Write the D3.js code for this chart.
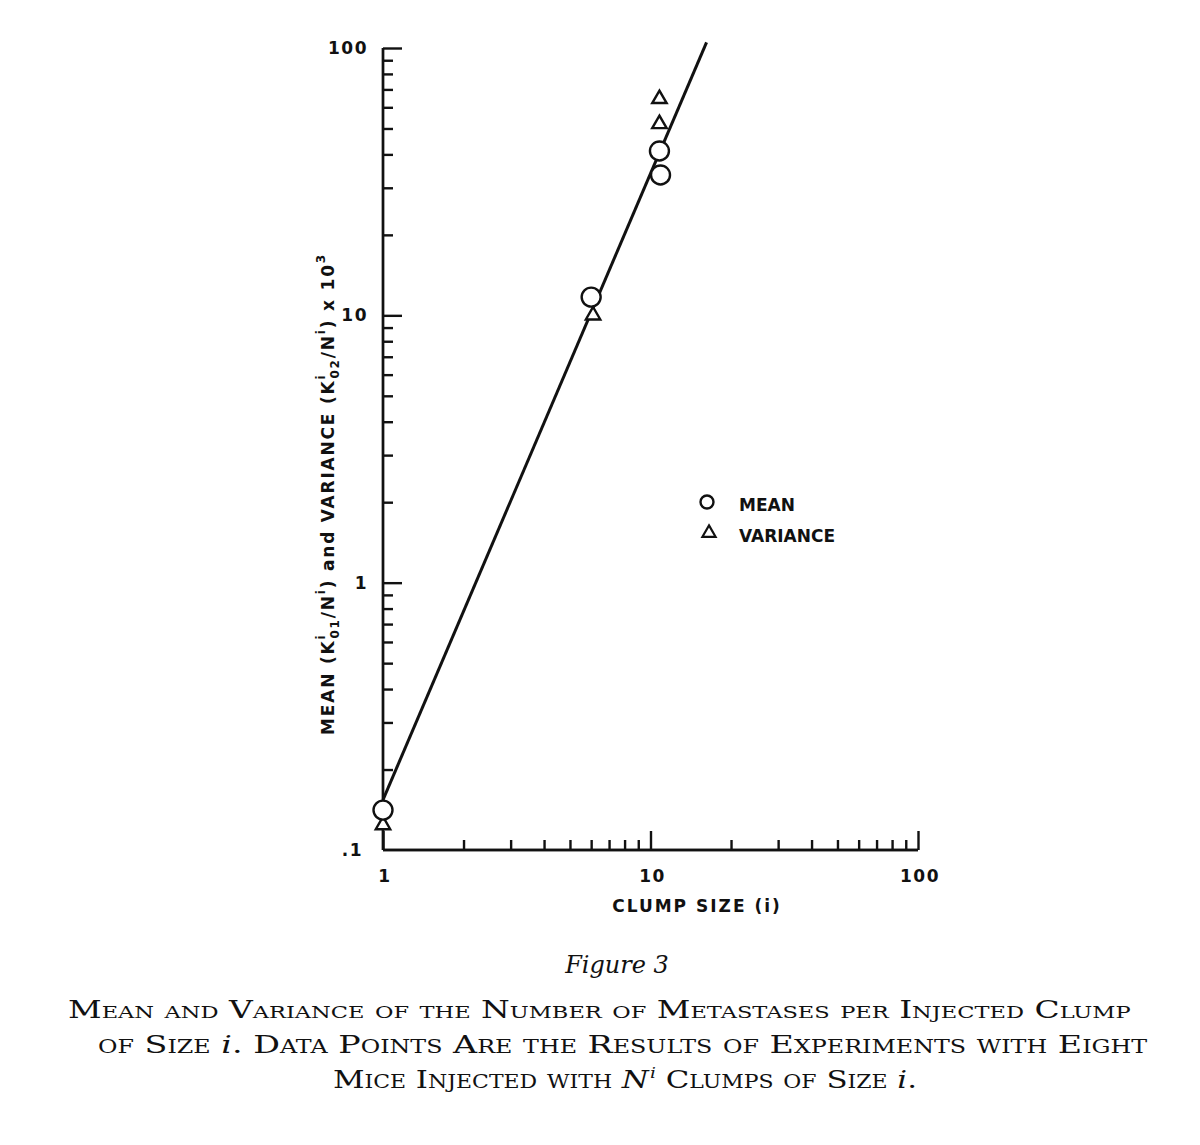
<!DOCTYPE html>
<html lang="en">
<head>
  <meta charset="UTF-8" />
  <title>Figure 3</title>
  <script src="https://d3js.org/d3.v7.min.js"></script>
  <style>
    body { margin: 0; background: #fff; }
    .lbl { font-family: "DejaVu Sans", sans-serif; font-weight: bold; fill: #111; }
    .cap { font-family: "DejaVu Serif", "Liberation Serif", serif; fill: #111; }
  </style>
</head>
<body>
  <div id="chart"></div>
  <script>
    // values
    const meanX = [1, 6.0, 10.8, 10.9];
    const meanY = [0.141, 11.7, 41.2, 33.5];
    const varX = [1, 6.1, 10.8, 10.8];
    const varY = [0.124, 10.0, 64.5, 52.0];
    const fitX = [1, 16.2];
    const fitY = [0.154, 105];
    const xMajor = [1, 10, 100];
    const xMajorLabels = ["1", "10", "100"];
    const yMajor = [0.1, 1, 10, 100];
    const yMajorLabels = [".1", "1", "10", "100"];
    const minorMult = [2, 3, 4, 5, 6, 7, 8, 9];

    const W = 1200, H = 1145;
    const svg = d3.select("#chart").append("svg").attr("width", W).attr("height", H);

    const x = d3.scaleLog().domain([1, 100]).range([383, 918]);
    const y = d3.scaleLog().domain([0.1, 100]).range([850, 48]);

    const xMinor = [1, 10].flatMap(d => minorMult.map(m => d * m));
    const yMinor = [0.1, 1, 10].flatMap(d => minorMult.map(m => d * m));

    // x axis, ticks pointing up into the plot
    const gx = svg.append("g").attr("transform", `translate(0,${y(0.1)})`);
    gx.call(d3.axisBottom(x).tickValues(xMinor).tickSize(-10).tickFormat(""));
    gx.append("g").call(d3.axisBottom(x).tickValues(xMajor).tickSize(-19).tickFormat(""));
    gx.selectAll(".domain").attr("d", `M${x(1)},0H${x(100)}`);
    gx.selectAll("path, line").attr("stroke", "#111").attr("stroke-width", 2.4);

    gx.selectAll(".xlab").data(xMajor).enter().append("text")
      .attr("class", "lbl").attr("x", d => x(d) + 2).attr("y", 32)
      .attr("text-anchor", "middle").style("font-size", "17px").style("letter-spacing", "1.5px")
      .text((d, i) => xMajorLabels[i]);

    // y axis, ticks pointing right into the plot
    const gy = svg.append("g").attr("transform", `translate(${x(1)},0)`);
    gy.call(d3.axisLeft(y).tickValues(yMinor).tickSize(-10).tickFormat(""));
    gy.append("g").call(d3.axisLeft(y).tickValues(yMajor.slice(1)).tickSize(-19).tickFormat(""));
    gy.selectAll(".domain").attr("d", `M0,${y(0.1)}V${y(100)}`);
    gy.selectAll("path, line").attr("stroke", "#111").attr("stroke-width", 2.4);

    gy.selectAll(".ylab").data(yMajor).enter().append("text")
      .attr("class", "lbl").attr("x", d => d === 0.1 ? -20 : -15).attr("y", d => y(d) + 6)
      .attr("text-anchor", "end").style("font-size", "17px").style("letter-spacing", "1.5px")
      .text((d, i) => yMajorLabels[i]);

    // fitted line
    const fit = fitX.map((d, i) => [d, fitY[i]]);
    svg.append("path").datum(fit)
      .attr("d", d3.line().x(d => x(d[0])).y(d => y(d[1])))
      .attr("fill", "none").attr("stroke", "#111").attr("stroke-width", 3);

    // points
    const tri = d3.symbol().type(d3.symbolTriangle);
    svg.append("g").selectAll("path")
      .data(varX.map((d, i) => [d, varY[i]]))
      .enter().append("path")
      .attr("d", tri.size(90)())
      .attr("transform", d => `translate(${x(d[0])},${y(d[1])})`)
      .attr("fill", "#fff").attr("stroke", "#111").attr("stroke-width", 2.4);

    svg.append("g").selectAll("circle")
      .data(meanX.map((d, i) => [d, meanY[i]]))
      .enter().append("circle")
      .attr("cx", d => x(d[0])).attr("cy", d => y(d[1])).attr("r", 9.5)
      .attr("fill", "#fff").attr("stroke", "#111").attr("stroke-width", 2.4);

    // legend
    const leg = svg.append("g").attr("transform", "translate(707,502)");
    leg.append("circle").attr("r", 6.5).attr("fill", "#fff").attr("stroke", "#111").attr("stroke-width", 2.4);
    leg.append("text").attr("class", "lbl").attr("x", 32).attr("y", 9).style("font-size", "17px").text("MEAN");
    leg.append("path").attr("d", tri.size(75)()).attr("transform", "translate(2,31)")
      .attr("fill", "#fff").attr("stroke", "#111").attr("stroke-width", 2.2);
    leg.append("text").attr("class", "lbl").attr("x", 32).attr("y", 40).style("font-size", "17px").text("VARIANCE");

    // x label
    svg.append("text").attr("class", "lbl").attr("x", 697).attr("y", 912)
      .attr("text-anchor", "middle").style("font-size", "17px").style("letter-spacing", "2px")
      .text("CLUMP SIZE (i)");

    // y label, rotated, with stacked sub/superscripts
    const yl = svg.append("text").attr("class", "lbl")
      .attr("transform", "translate(334,494) rotate(-90)")
      .attr("text-anchor", "middle").style("font-size", "17px").style("letter-spacing", "1.8px");
    const part = (t, opt = {}) => {
      const s = yl.append("tspan").text(t);
      if (opt.dy) s.attr("dy", opt.dy);
      if (opt.dx) s.attr("dx", opt.dx);
      if (opt.small) s.style("font-size", "12px");
      return s;
    };
    part("MEAN (K");
    part("i", { dy: -9, small: true });
    part("01", { dx: -5, dy: 14, small: true });
    part("/N", { dy: -5 });
    part("i", { dy: -9, small: true });
    part(")  and  VARIANCE (K", { dy: 9 });
    part("i", { dy: -9, small: true });
    part("02", { dx: -5, dy: 14, small: true });
    part("/N", { dy: -5 });
    part("i", { dy: -9, small: true });
    part(")  x  10", { dy: 9 });
    part("3", { dy: -9, small: true });

    // caption
    const cap = svg.append("g");
    cap.append("text").attr("class", "cap").attr("x", 617).attr("y", 973)
      .attr("text-anchor", "middle").style("font-size", "24px").style("font-style", "italic")
      .text("Figure 3");

    const capLines = [
      { y: 1018, x0: 68, w: 1097, parts: [["Mean and Variance of the Number of Metastases per Injected Clump"]] },
      { y: 1053, x0: 98, w: 1040, parts: [["of Size "], ["i", "it"], [". Data Points Are the Results of Experiments with Eight"]] },
      { y: 1088, x0: 333, w: 584, parts: [["Mice Injected with "], ["N", "it"], ["i", "sup"], [" Clumps of Size "], ["i", "it"], ["."]] }
    ];
    capLines.forEach(l => {
      const g = cap.append("g");
      const t = g.append("text").attr("class", "cap").attr("x", 0).attr("y", 0)
        .style("font-size", "25px").style("font-variant", "small-caps");
      let prevSup = false;
      l.parts.forEach(p => {
        const s = t.append("tspan").text(p[0]);
        if (p[1] === "it") s.style("font-style", "italic").style("font-variant", "normal");
        if (p[1] === "sup") s.style("font-style", "italic").style("font-variant", "normal")
          .style("font-size", "15px").attr("dy", -10).attr("dx", 1);
        else if (prevSup) s.attr("dy", 10);
        prevSup = p[1] === "sup";
      });
      // stretch sideways to the reference width, measuring what is actually laid out
      let sx = l.w / t.node().getBBox().width;
      for (let k = 0; k < 6; k++) {
        g.attr("transform", `translate(${l.x0},${l.y}) scale(${sx},1)`);
        const rw = t.node().getBoundingClientRect().width;
        sx *= l.w / rw;
      }
      g.attr("transform", `translate(${l.x0},${l.y}) scale(${sx},1)`);
    });
  </script>
</body>
</html>
